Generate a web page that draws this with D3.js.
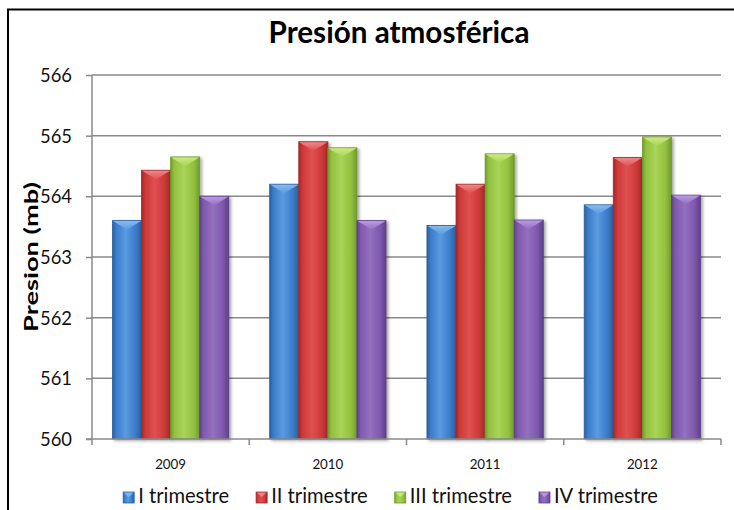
<!DOCTYPE html>
<html><head><meta charset="utf-8">
<script src="https://cdn.jsdelivr.net/npm/d3@7/dist/d3.min.js"></script>
<style>html,body{margin:0;padding:0;background:#fff;overflow:hidden}svg{display:block}text{font-family:Lato,"Open Sans",sans-serif}</style>
</head><body>
<script>
const years = ["2009", "2010", "2011", "2012"];
const seriesNames = ["I trimestre", "II trimestre", "III trimestre", "IV trimestre"];
const trim1 = [563.6, 564.2, 563.52, 563.86];
const trim2 = [564.43, 564.9, 564.2, 564.64];
const trim3 = [564.65, 564.8, 564.7, 564.98];
const trim4 = [564.0, 563.6, 563.61, 564.02];
const yTicks = [560, 561, 562, 563, 564, 565, 566];
const title = "Presión atmosférica";
const yTitle = "Presion (mb)";

(function() {
const seriesValues = [trim1, trim2, trim3, trim4];
const palette = [
  {dark:"#2a5f9e", base:"#3a7bc8", light:"#5a9be0", top:"#8cc0f0"},
  {dark:"#a02828", base:"#cc3838", light:"#e05050", top:"#f09090"},
  {dark:"#6f9a2c", base:"#93c03f", light:"#a8d458", top:"#d0ee88"},
  {dark:"#5e4088", base:"#7e58ac", light:"#9470c0", top:"#c0a0e8"}
];
// scale a text's font-size so its width matches a target width
function fitSize(node, target) {
  const cur = parseFloat(d3.select(node).attr("font-size"));
  const w = node.getComputedTextLength();
  const s = cur * target / w;
  d3.select(node).attr("font-size", s);
  return s;
}

const W = 734, H = 510;
const svg = d3.select("body").append("svg").attr("width", W).attr("height", H);
const defs = svg.append("defs");
palette.forEach((c, i) => {
  const g = defs.append("linearGradient").attr("id", "g" + i).attr("x1", 0).attr("x2", 1).attr("y1", 0).attr("y2", 0);
  [[0, c.dark], [0.12, c.base], [0.45, c.light], [0.8, c.base], [1, c.dark]].forEach(s =>
    g.append("stop").attr("offset", s[0]).attr("stop-color", s[1]));
  const t = defs.append("linearGradient").attr("id", "t" + i).attr("x1", 0).attr("x2", 0).attr("y1", 0).attr("y2", 1);
  t.append("stop").attr("offset", 0).attr("stop-color", c.top);
  t.append("stop").attr("offset", 1).attr("stop-color", c.light);
});
const f = defs.append("filter").attr("id", "sh").attr("x", "-20%").attr("y", "-5%").attr("width", "150%").attr("height", "115%");
f.append("feDropShadow").attr("dx", 2).attr("dy", 1.5).attr("stdDeviation", 1.5).attr("flood-color", "#000").attr("flood-opacity", 0.35);

// border
svg.append("rect").attr("x", 8).attr("y", 9.5).attr("width", 740).attr("height", 520)
  .attr("fill", "none").attr("stroke", "#000").attr("stroke-width", 2);

const pL = 92, pR = 721, pT = 75, pB = 439;
const x0 = d3.scaleBand().domain(years).range([pL, pR]).padding(0);
const groupFrac = 0.74;
const x1 = d3.scaleBand().domain(d3.range(seriesNames.length))
  .range([x0.bandwidth() * (1 - groupFrac) / 2, x0.bandwidth() * (1 + groupFrac) / 2]).padding(0);
const y = d3.scaleLinear().domain([560, 566]).range([pB, pT]);

// gridlines
svg.append("g").selectAll("line").data(yTicks.slice(1)).join("line")
  .attr("x1", pL).attr("x2", pR).attr("y1", d => y(d)).attr("y2", d => y(d))
  .attr("stroke", "#8a8a8a").attr("stroke-width", 1.5);

// y axis
const ya = svg.append("g").attr("transform", `translate(${pL},0)`)
  .call(d3.axisLeft(y).tickValues(yTicks).tickSize(6).tickPadding(14).tickFormat(d3.format("d")));
ya.select(".domain").attr("stroke", "#8a8a8a").attr("stroke-width", 1.5).attr("d", `M0,${pT}V${pB}`);
ya.selectAll(".tick line").attr("stroke", "#8a8a8a").attr("stroke-width", 1.5);
const yt = ya.selectAll(".tick text").attr("font-size", 18).attr("fill", "#111").attr("font-family", "Lato").attr("dy", "0.36em");
const ySize = fitSize(yt.nodes()[yt.size() - 1], 32);
yt.attr("font-size", ySize);

// bars
const gYears = svg.append("g").selectAll("g").data(years).join("g")
  .attr("transform", d => `translate(${x0(d)},0)`);
gYears.each(function(yr, yi) {
  const g = d3.select(this);
  seriesValues.forEach((vals, si) => {
    const v = vals[yi];
    const bx = x1(si), bw = x1.bandwidth(), by = y(v), bh = y(560) - y(v);
    const bg = g.append("g").attr("filter", "url(#sh)");
    bg.append("rect").attr("x", bx).attr("y", by).attr("width", bw).attr("height", bh)
      .attr("fill", `url(#g${si})`).attr("stroke", palette[si].dark).attr("stroke-width", 0.8);
    bg.append("path").attr("d", `M${bx + 0.5},${by + 0.5}L${bx + bw - 0.5},${by + 0.5}L${bx + bw / 2},${by + 9}Z`)
      .attr("fill", `url(#t${si})`).attr("opacity", 0.9);
  });
});

// x axis
const xa = svg.append("g").attr("transform", `translate(0,${pB})`)
  .call(d3.axisBottom(x0).tickSize(0).tickPadding(0));
xa.select(".domain").remove();
const xt = xa.selectAll(".tick text").attr("font-size", 14).attr("fill", "#111").attr("dy", null).attr("y", 30);
const xSize = fitSize(xt.nodes()[0], 31);
xt.attr("font-size", xSize);
const xTickPos = years.map(d => x0(d)).concat([pR]);
svg.append("g").selectAll("line").data(xTickPos).join("line")
  .attr("x1", d => d).attr("x2", d => d).attr("y1", pB).attr("y2", pB + 6)
  .attr("stroke", "#8a8a8a").attr("stroke-width", 1.5);
svg.append("line").attr("x1", pL - 6).attr("x2", pR).attr("y1", pB).attr("y2", pB)
  .attr("stroke", "#8a8a8a").attr("stroke-width", 1.5);

// titles
const tt = svg.append("text").attr("x", 399).attr("y", 43).attr("text-anchor", "middle")
  .attr("font-size", 26).attr("font-weight", "bold").attr("fill", "#000").text(title);
fitSize(tt.node(), 261);
svg.append("text").attr("transform", "translate(38,257) rotate(-90)").attr("text-anchor", "middle")
  .attr("font-size", 18).attr("font-weight", "bold").attr("fill", "#000")
  .attr("textLength", 150).attr("lengthAdjust", "spacingAndGlyphs").text(yTitle);

// legend
const lg = svg.append("g");
const items = lg.selectAll("g").data(seriesNames).join("g");
items.append("rect").attr("x", 0).attr("y", -11).attr("width", 11).attr("height", 11)
  .attr("fill", (d, i) => `url(#g${i})`).attr("stroke", (d, i) => palette[i].dark).attr("stroke-width", 0.8);
items.append("path").attr("d", "M0.5,-10.5L10.5,-10.5L5.5,-6Z").attr("fill", (d, i) => palette[i].top).attr("opacity", 0.8);
const lt = items.append("text").attr("x", 15).attr("y", 0).attr("font-size", 19).attr("fill", "#111").text(d => d);
const lSize = fitSize(lt.nodes()[0], 91);
lt.attr("font-size", lSize);
const gap = 27; const widths = [];
items.each(function() { widths.push(15 + d3.select(this).select("text").node().getComputedTextLength()); });
const total = d3.sum(widths) + gap * (widths.length - 1);
let start = 390.5 - total / 2;
items.attr("transform", (d, i) => { const t = `translate(${start},503)`; start += widths[i] + gap; return t; });
})();
</script>
</body></html>
